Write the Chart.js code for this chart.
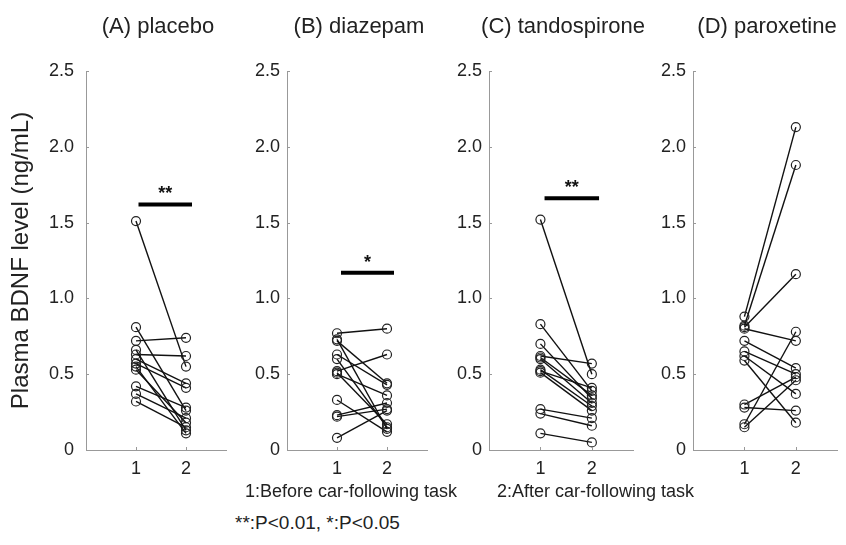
<!DOCTYPE html>
<html>
<head>
<meta charset="utf-8">
<script src="https://cdn.jsdelivr.net/npm/chart.js@4/dist/chart.umd.min.js"></script>
<style>
  body { margin: 0; background: #fff; }
  #wrap { position: relative; width: 846px; height: 545px; overflow: hidden; font-family: "Liberation Sans", Arial, sans-serif; color: #222; }
  canvas { position: absolute; top: 0; }
  .note { position: absolute; font-size: 18px; white-space: pre; color: #222; }
</style>
</head>
<body>
<div id="wrap">
  <canvas id="pA" width="240" height="490" style="left:0px"></canvas>
  <canvas id="pB" width="200" height="490" style="left:240px"></canvas>
  <canvas id="pC" width="205" height="490" style="left:440px"></canvas>
  <canvas id="pD" width="201" height="490" style="left:645px"></canvas>
  <div class="note" style="left:245px; top:481px">1:Before car-following task</div>
  <div class="note" style="left:497px; top:481px">2:After car-following task</div>
  <div class="note" style="left:235px; top:512px; font-size:19px">**:P&lt;0.01, *:P&lt;0.05</div>
</div>
<script>
// x positions (1 = before, 2 = after) and y ticks
const timePoints = [1, 2];
const yTicks = [0, 0.5, 1.0, 1.5, 2.0, 2.5];
const panelTitles = ["(A) placebo", "(B) diazepam", "(C) tandospirone", "(D) paroxetine"];
const yTitle = "Plasma BDNF level (ng/mL)";

// one value per subject, same order in before/after
const placeboBefore = [1.51, 0.81, 0.72, 0.66, 0.63, 0.60, 0.57, 0.55, 0.53, 0.42, 0.37, 0.32];
const placeboAfter  = [0.55, 0.26, 0.74, 0.13, 0.62, 0.44, 0.41, 0.11, 0.18, 0.28, 0.21, 0.15];
const diazepamBefore = [0.77, 0.73, 0.72, 0.63, 0.60, 0.52, 0.51, 0.50, 0.33, 0.23, 0.22, 0.08];
const diazepamAfter  = [0.80, 0.14, 0.44, 0.43, 0.15, 0.63, 0.17, 0.36, 0.12, 0.31, 0.27, 0.26];
const tandoBefore = [1.52, 0.83, 0.70, 0.62, 0.61, 0.60, 0.53, 0.52, 0.51, 0.27, 0.24, 0.11];
const tandoAfter  = [0.50, 0.39, 0.34, 0.57, 0.36, 0.31, 0.29, 0.41, 0.26, 0.21, 0.16, 0.05];
const paroxBefore = [0.88, 0.82, 0.81, 0.80, 0.72, 0.65, 0.62, 0.59, 0.30, 0.28, 0.17, 0.15];
const paroxAfter  = [2.13, 1.88, 1.16, 0.72, 0.54, 0.50, 0.37, 0.18, 0.48, 0.26, 0.78, 0.46];

// significance bars: [from x, to x, y level, label]
const sigA = [1.05, 2.12, 1.62, "**"];
const sigB = [1.08, 2.14, 1.17, "*"];
const sigC = [1.08, 2.14, 1.66, "**"];

const axisColor = "#999";
const textColor = "#222";
const fontFam = '"Liberation Sans", Arial, sans-serif';

const decor = {
  id: "decor",
  afterDraw(chart, args, opts) {
    const { ctx, chartArea, scales: { x, y } } = chart;
    ctx.save();
    ctx.strokeStyle = axisColor;
    ctx.lineWidth = 1;
    ctx.beginPath();
    yTicks.forEach(v => {
      const py = Math.round(y.getPixelForValue(v)) + 0.5;
      ctx.moveTo(chartArea.left, py);
      ctx.lineTo(chartArea.left + 3, py);
    });
    timePoints.forEach(v => {
      const px = Math.round(x.getPixelForValue(v)) + 0.5;
      ctx.moveTo(px, chartArea.bottom);
      ctx.lineTo(px, chartArea.bottom - 3);
    });
    ctx.stroke();

    ctx.fillStyle = textColor;
    ctx.textAlign = "center";
    ctx.textBaseline = "middle";
    ctx.font = "22px " + fontFam;
    ctx.fillText(opts.title, (chartArea.left + chartArea.right) / 2 + 2, 27);

    if (opts.sig) {
      ctx.fillStyle = "#111";
      ctx.font = "bold 18px " + fontFam;
      const cx = x.getPixelForValue((opts.sig[0] + opts.sig[1]) / 2);
      ctx.fillText(opts.sig[3], cx, y.getPixelForValue(opts.sig[2]) - 10);
    }
    ctx.restore();
  }
};

function makePanel(id, title, before, after, sig, axisW, padRight, labelPad, showTitle) {
  const datasets = before.map((b, i) => ({
    data: [{ x: timePoints[0], y: b }, { x: timePoints[1], y: after[i] }],
    borderColor: "#111",
    borderWidth: 1.4,
    pointRadius: 4.5,
    pointBorderWidth: 1.2,
    pointBorderColor: "#222",
    pointBackgroundColor: "rgba(255,255,255,0)",
    showLine: true,
    tension: 0
  }));
  if (sig) {
    datasets.push({
      data: [{ x: sig[0], y: sig[2] }, { x: sig[1], y: sig[2] }],
      borderColor: "#000",
      borderWidth: 4,
      pointRadius: 0,
      showLine: true
    });
  }
  new Chart(document.getElementById(id), {
    type: "scatter",
    data: { datasets },
    options: {
      responsive: false,
      animation: false,
      events: [],
      layout: { padding: { top: 71, right: padRight, bottom: 0, left: 0 } },
      plugins: {
        legend: { display: false },
        tooltip: { enabled: false },
        decor: { title, sig }
      },
      scales: {
        x: {
          type: "linear",
          min: 0,
          max: 2.8,
          afterBuildTicks: s => { s.ticks = timePoints.map(v => ({ value: v })); },
          afterFit: s => { s.height = 40; },
          grid: { display: false, drawTicks: false },
          border: { display: true, color: axisColor, width: 1 },
          ticks: { color: textColor, font: { family: fontFam, size: 18 }, padding: 8, maxRotation: 0 }
        },
        y: {
          min: 0,
          max: 2.5,
          afterBuildTicks: s => { s.ticks = yTicks.map(v => ({ value: v })); },
          afterFit: s => { s.width = axisW; },
          grid: { display: false, drawTicks: false },
          border: { display: true, color: axisColor, width: 1 },
          ticks: {
            color: textColor,
            font: { family: fontFam, size: 18 },
            padding: labelPad,
            callback: v => (v === 0 ? "0" : v.toFixed(1))
          },
          title: {
            display: showTitle,
            text: yTitle,
            color: textColor,
            font: { family: fontFam, size: 24 },
            padding: { top: 7, bottom: 0 }
          }
        }
      }
    },
    plugins: [decor]
  });
}

makePanel("pA", panelTitles[0], placeboBefore, placeboAfter, sigA, 86, 14, 12, true);
makePanel("pB", panelTitles[1], diazepamBefore, diazepamAfter, sigB, 47, 13, 7, false);
makePanel("pC", panelTitles[2], tandoBefore, tandoAfter, sigC, 49, 12, 7, false);
makePanel("pD", panelTitles[3], paroxBefore, paroxAfter, null, 48, 9, 7, false);
</script>
</body>
</html>
